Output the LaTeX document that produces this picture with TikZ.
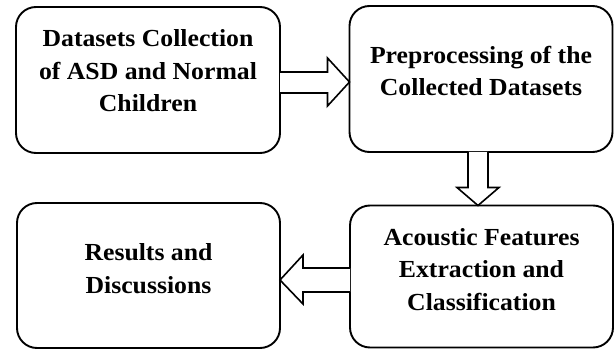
\documentclass[tikz,border=0pt]{standalone}
\usepackage{fontspec}
\newfontfamily\boxfont{Liberation Serif}[FakeStretch=1.05]
\usetikzlibrary{calc}
\tikzset{
  stagebox/.style={draw=black, line width=1.9pt, rounded corners=20pt, fill=white, inner sep=0pt, outer sep=0pt},
  lbl/.style={align=center, inner sep=0pt, font=\boxfont\bfseries\fontsize{24.5}{32.5}\selectfont},
  blockarrow/.style={draw=black, line width=1.6pt, fill=white, line join=miter}
}
\begin{document}
\begin{tikzpicture}[x=1pt,y=-1pt]
\useasboundingbox[fill=white] (0,0) rectangle (616,350);
% boxes
\node[stagebox, minimum width=264pt, minimum height=146pt] (b1) at (148,80) {};
\node[stagebox, minimum width=263pt, minimum height=146pt] (b2) at (481,79) {};
\node[stagebox, minimum width=263pt, minimum height=145pt] (b3) at (148.5,275.5) {};
\node[stagebox, minimum width=263pt, minimum height=142pt] (b4) at (481.5,276.5) {};
% labels
\node[lbl] (t1) at ($(b1.center)+(0,-9)$) {Datasets Collection\\of ASD and Normal\\Children};
\node[lbl] (t2) at ($(b2.center)+(0,-8)$) {Preprocessing of the\\Collected Datasets};
\node[lbl] (t3) at ($(b3.center)+(0,-7)$) {Results and\\Discussions};
\node[lbl] (t4) at ($(b4.center)+(0,-7)$) {Acoustic Features\\Extraction and\\Classification};
% block arrows
\draw[blockarrow] let \p1=(b1.east), \p2=(b2.west) in
  (\x1,72) -- (\x2-22pt,72) -- (\x2-22pt,58) -- (\x2,82) -- (\x2-22pt,106) -- (\x2-22pt,93) -- (\x1,93);
\draw[blockarrow] let \p1=(b2.south), \p2=(b4.north) in
  (468,\y1) -- (468,\y2+18pt) -- (457,\y2+18pt) -- (478,\y2) -- (499,\y2+18pt) -- (488,\y2+18pt) -- (488,\y1);
\draw[blockarrow] let \p1=(b4.west), \p2=(b3.east) in
  (\x1,268) -- (\x2+23pt,268) -- (\x2+23pt,255) -- (\x2,280) -- (\x2+23pt,304) -- (\x2+23pt,292) -- (\x1,292);
\end{tikzpicture}
\end{document}
